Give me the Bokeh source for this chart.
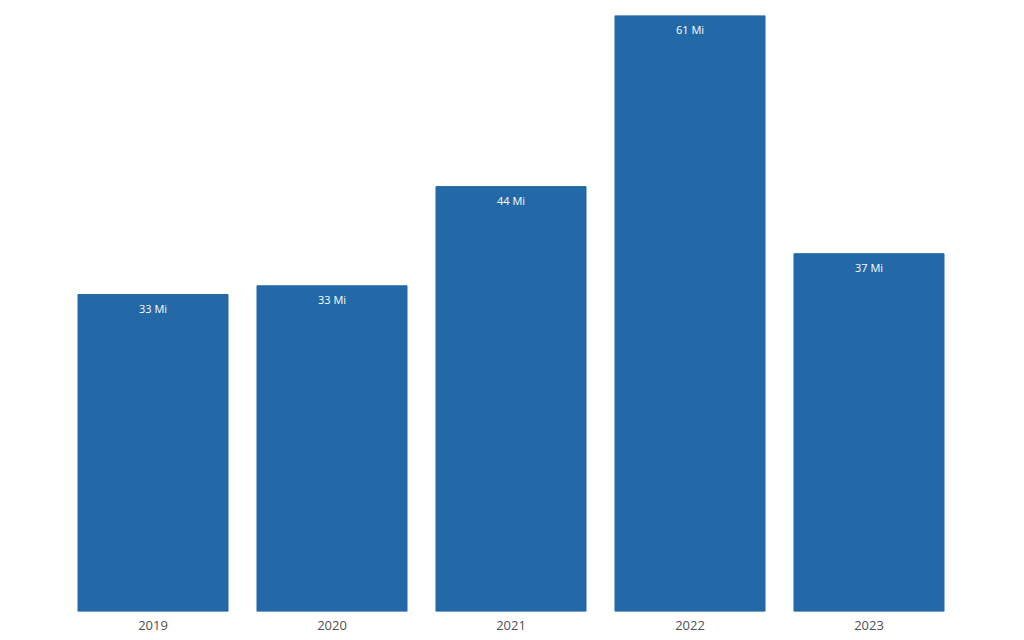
from bokeh.plotting import figure
from bokeh.models import ColumnDataSource, FactorRange, Range1d
from bokeh.core.properties import value
from bokeh.embed import file_html
from bokeh.resources import INLINE

years = ["2019", "2020", "2021", "2022", "2023"]
amounts = [32.6, 33.5, 43.7, 61.3, 36.8]
labels = ["33 Mi", "33 Mi", "44 Mi", "61 Mi", "37 Mi"]

src = ColumnDataSource(dict(x=years, top=amounts, lab=labels))

p = figure(width=1024, height=640, x_range=FactorRange(*years, range_padding=0),
           y_range=Range1d(0, max(amounts)),
           output_backend="svg", toolbar_location=None,
           min_border_left=63, min_border_right=66, min_border_top=15, min_border_bottom=29)

p.vbar(x="x", top="top", width=0.838, source=src, color="#2369a8")
p.text(x="x", y="top", text="lab", source=src, text_color="white",
       text_font=value("Open Sans"), text_font_size="11px",
       text_align="center", text_baseline="middle", y_offset=14)

p.yaxis.visible = False
p.xaxis.axis_line_color = None
p.xaxis.major_tick_line_color = None
p.xaxis.minor_tick_line_color = None
p.xaxis.major_label_text_font = "Open Sans"
p.xaxis.major_label_text_font_size = "13px"
p.xaxis.major_label_text_color = "#505050"
p.xaxis.major_label_standoff = 3
p.xgrid.visible = False
p.ygrid.visible = False
p.outline_line_color = None
p.background_fill_color = "white"
p.border_fill_color = "white"

open("out.html", "w").write(file_html(p, INLINE))
